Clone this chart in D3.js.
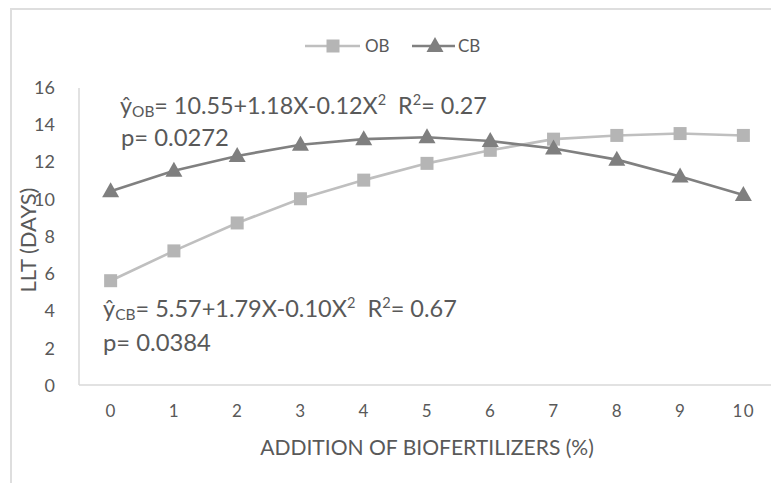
<!DOCTYPE html>
<html><head><meta charset="utf-8">
<script src="https://cdn.jsdelivr.net/npm/d3@7"></script>
<style>
body{margin:0;background:#fff}
svg{display:block}
text{font-family:Lato,'Open Sans',sans-serif;fill:#595959;white-space:pre}
</style>
</head><body>
<svg id="chart" width="771" height="483"></svg>
<script>
// ---- data ----
const categories = ["0","1","2","3","4","5","6","7","8","9","10"];
const obValues = [5.6, 7.2, 8.7, 10.0, 11.0, 11.9, 12.6, 13.2, 13.4, 13.5, 13.4];
const cbValues = [10.4, 11.5, 12.3, 12.9, 13.2, 13.3, 13.1, 12.7, 12.1, 11.2, 10.2];
const yTicks = [0, 2, 4, 6, 8, 10, 12, 14, 16];
const seriesNames = ["OB", "CB"];
const xTitle = "ADDITION OF BIOFERTILIZERS (%)";
const yTitle = "LLT (DAYS)";
const eqOB = [["ŷ",""],["OB","sub"],["= 10.55+1.18X-0.12X",""],["2","sup"],["  R",""],["2","sup"],["= 0.27",""]];
const pOB = "p= 0.0272";
const eqCB = [["ŷ",""],["CB","sub"],["= 5.57+1.79X-0.10X",""],["2","sup"],["  R",""],["2","sup"],["= 0.67",""]];
const pCB = "p= 0.0384";

(function () {
// ---- layout ----
const svg = d3.select("#chart");
const pLeft = 79, pRight = 775, pTop = 87, pBottom = 385;
const x = d3.scalePoint().domain(categories).range([pLeft, pRight]).padding(0.5);
const y = d3.scaleLinear().domain([0, 16]).range([pBottom, pTop]);

// chart border
svg.append("path").attr("d", "M11,483 V9 H771")
  .attr("fill", "none").attr("stroke", "#dedede").attr("stroke-width", 2);

// y axis line
svg.append("line").attr("x1", pLeft).attr("x2", pLeft).attr("y1", pTop + 1).attr("y2", pBottom)
  .attr("stroke", "#d9d9d9").attr("stroke-width", 1.5);
// x axis
const xAxis = d3.axisBottom(x).tickSize(0).tickPadding(0);
const gx = svg.append("g").attr("transform", `translate(0,${pBottom})`).call(xAxis);
gx.select(".domain").remove();
gx.append("line").attr("x1", pLeft).attr("x2", 771).attr("stroke", "#d9d9d9").attr("stroke-width", 1.5);
gx.selectAll(".tick text").attr("y", 26).attr("dy", "0.35em")
  .style("font-size", "17px").style("fill", "#595959").style("letter-spacing", "1.5px");

const yAxis = d3.axisLeft(y).tickValues(yTicks).tickSize(0).tickPadding(0);
const gy = svg.append("g").attr("transform", `translate(55,0)`).call(yAxis);
gy.select(".domain").remove();
gy.selectAll(".tick text").attr("x", 0).attr("dy", "0.35em")
  .style("font-size", "18px").style("fill", "#595959");
gy.attr("font-family", null); gx.attr("font-family", null);

function fit(sel, target) {
  const fs = parseFloat(sel.style("font-size"));
  const len = sel.node().getComputedTextLength();
  sel.style("font-size", (fs * target / len) + "px");
}

// axis titles
const xt = svg.append("text").attr("x", (pLeft + pRight) / 2).attr("y", 448).attr("dy", "0.35em")
  .attr("text-anchor", "middle").style("font-size", "17px").text(xTitle);
fit(xt, 334);
const yt = svg.append("text").attr("transform", "translate(28,240) rotate(-90)").attr("dy", "0.35em")
  .attr("text-anchor", "middle").style("font-size", "17px").text(yTitle);
fit(yt, 105);

// series
const series = [
  {name: seriesNames[0], values: obValues, line: "#bfbfbf", marker: "#b5b5b5", shape: "square"},
  {name: seriesNames[1], values: cbValues, line: "#808080", marker: "#7f7f7f", shape: "triangle"}
];
const lineGen = d3.line().x((d, i) => x(categories[i])).y(d => y(d));
function marker(g, shape, color, cx, cy) {
  if (shape === "square") {
    g.append("rect").attr("x", cx - 6.5).attr("y", cy - 6.5).attr("width", 13).attr("height", 13).attr("fill", color);
  } else {
    g.append("path").attr("d", `M${cx},${cy - 9} L${cx + 8.5},${cy + 6} L${cx - 8.5},${cy + 6} Z`).attr("fill", color);
  }
}
series.forEach(s => {
  const g = svg.append("g");
  g.append("path").datum(s.values).attr("d", lineGen).attr("fill", "none")
    .attr("stroke", s.line).attr("stroke-width", 2.6);
  s.values.forEach((v, i) => marker(g, s.shape, s.marker, x(categories[i]), y(v)));
});

// legend
const legendItems = [
  {s: series[0], x1: 305, x2: 360, mx: 333, tx: 365},
  {s: series[1], x1: 412, x2: 455, mx: 435, tx: 458}
];
legendItems.forEach(L => {
  const g = svg.append("g");
  g.append("line").attr("x1", L.x1).attr("x2", L.x2).attr("y1", 46).attr("y2", 46)
    .attr("stroke", L.s.line).attr("stroke-width", 2.6);
  marker(g, L.s.shape, L.s.marker, L.mx, 46);
  g.append("text").attr("x", L.tx).attr("y", 46).attr("dy", "0.35em").style("font-size", "17px").text(L.s.name);
});

// annotations
function equation(parts, tx, ty, target) {
  const t = svg.append("text").attr("x", tx).attr("y", ty).attr("dy", "0.35em").style("font-size", "18px");
  let prev = "";
  parts.forEach(([str, kind]) => {
    const ts = t.append("tspan").text(str);
    let dy = 0;
    if (prev === "sub") dy -= 0.12; if (prev === "sup") dy += 0.38;
    if (kind === "sub") { ts.attr("font-size", "66%"); dy = dy / 0.66 + 0.18; ts.attr("dy", dy + "em"); }
    else if (kind === "sup") { ts.attr("font-size", "62%"); dy = dy / 0.62 - 0.61; ts.attr("dy", dy + "em"); }
    else if (dy !== 0) ts.attr("dy", dy + "em");
    prev = kind;
  });
  fit(t, target);
  return t;
}
equation(eqOB, 120, 106, 367);
const p1 = svg.append("text").attr("x", 121).attr("y", 138).attr("dy", "0.35em").style("font-size", "18px").text(pOB);
fit(p1, 108);
equation(eqCB, 103, 309, 354);
const p2 = svg.append("text").attr("x", 103).attr("y", 343).attr("dy", "0.35em").style("font-size", "18px").text(pCB);
fit(p2, 108);
})();
</script>
</body></html>
